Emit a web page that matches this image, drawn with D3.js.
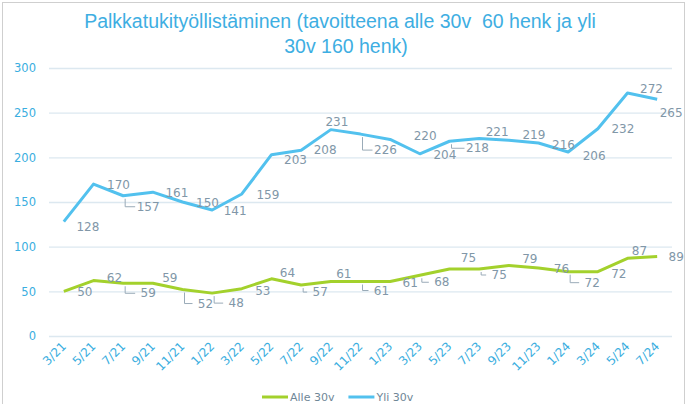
<!DOCTYPE html>
<html>
<head>
<meta charset="utf-8">
<script src="https://cdn.jsdelivr.net/npm/d3@7"></script>
<style>
  body { margin: 0; background: #fff; }
  svg { display: block; }
</style>
</head>
<body>
<svg id="chart" width="692" height="404"></svg>
<script>
// data
const months = ["3/21", "5/21", "7/21", "9/21", "11/21", "1/22", "3/22", "5/22", "7/22", "9/22", "11/22",
  "1/23", "3/23", "5/23", "7/23", "9/23", "11/23", "1/24", "3/24", "5/24", "7/24"];
const alle30 = [50, 62, 59, 59, 52, 48, 53, 64, 57, 61, 61, 61, 68, 75, 75, 79, 76, 72, 72, 87, 89];
const yli30 = [128, 170, 157, 161, 150, 141, 159, 203, 208, 231, 226, 220, 204, 218, 221, 219, 216, 206, 232, 272, 265];
const yTicks = [0, 50, 100, 150, 200, 250, 300];

// label nudges (dx to label centre, dy to baseline) like the excel leader-line layout
const yliLabelDx = [24, 25, 25, 24, 25, 23, 26, 24, 24, 6, 25, 35, 25, 28, 18, 25, 25, 26, 25, 24, 14];
const yliLabelDy = [9, 5, 15, 5, 5, 5, 5, 9, 4, -4, 20, 1, 5, 11, -3, -1, 6, 8, 4, 0, 18];
const alleLabelDx = [21, 21, 25, 17, 23, 24, 21, 16, 19, 13, 21, 20, 22, 19, 20, 21, 23, 24, 21, 12, 19];
const alleLabelDy = [5, 1, 14, -1, 18, 14, 6, -2, 11, -4, 13, 5, 11, -7, 10, -2, 5, 15, 6, -3, 5];

const series = [
  { name: "Alle 30v", values: alle30, color: "#a3d12c", dx: alleLabelDx, dy: alleLabelDy },
  { name: "Yli 30v", values: yli30, color: "#52c1ee", dx: yliLabelDx, dy: yliLabelDy }
];

const svg = d3.select("#chart");
const plotLeft = 49, plotRight = 672, plotTop = 68, plotBottom = 336;

// frame
svg.append("rect")
  .attr("x", 2.5).attr("y", 2.5)
  .attr("width", 682).attr("height", 410)
  .attr("fill", "none")
  .attr("stroke", "#cfcfcf");

const x = d3.scaleBand().domain(months).range([plotLeft, plotRight]).padding(0);
const cx = d => x(d) + x.bandwidth() / 2;
const y = d3.scaleLinear().domain([0, 300]).range([plotBottom, plotTop]);

// title
const title = svg.append("text")
  .attr("text-anchor", "middle")
  .attr("font-family", "Liberation Sans, Arial, sans-serif")
  .attr("font-size", 19.5)
  .attr("fill", "#3eaee2");
title.append("tspan").attr("x", 340).attr("y", 28)
  .text("Palkkatukityöllistäminen (tavoitteena alle 30v\u00a0 60 henk ja yli");
title.append("tspan").attr("x", 346).attr("y", 53)
  .text("30v 160 henk)");

// gridlines + y axis
const yAxis = svg.append("g")
  .attr("transform", `translate(${plotLeft},0)`)
  .call(d3.axisLeft(y).tickValues(yTicks).tickSize(-(plotRight - plotLeft)).tickPadding(13));
yAxis.select(".domain").remove();
yAxis.selectAll(".tick line").attr("stroke", "#dce8f0").attr("stroke-width", 1.3);
yAxis.selectAll(".tick text")
  .attr("font-family", "DejaVu Sans, sans-serif")
  .attr("font-size", 11.5)
  .attr("fill", "#3aaee0");

// x axis labels
const xAxis = svg.append("g")
  .attr("transform", `translate(0,${plotBottom})`)
  .call(d3.axisBottom(x).tickSize(0).tickPadding(0));
xAxis.select(".domain").remove();
xAxis.selectAll(".tick text")
  .attr("font-family", "DejaVu Sans, sans-serif")
  .attr("font-size", 12)
  .attr("fill", "#3aaee0")
  .attr("text-anchor", "end")
  .attr("dy", null)
  .attr("y", 0)
  .attr("transform", "translate(3,11) rotate(-45)");

// lines
const line = d3.line()
  .x((d, i) => cx(months[i]))
  .y(d => y(d));

series.forEach(s => {
  svg.append("path")
    .datum(s.values)
    .attr("d", line)
    .attr("fill", "none")
    .attr("stroke", s.color)
    .attr("stroke-width", 3)
    .attr("stroke-linejoin", "round");
});

// data labels with little leader lines
series.forEach(s => {
  const g = svg.append("g");
  s.values.forEach((v, i) => {
    const px = cx(months[i]), py = y(v);
    const lx = px + s.dx[i], ly = py + s.dy[i];
    if (s.dy[i] >= 10 && s.dx[i] >= 18) {
      g.append("path")
        .attr("d", `M${px + 2},${py + 3} V${ly - 4} H${lx - 13}`)
        .attr("fill", "none")
        .attr("stroke", "#9aabb8")
        .attr("stroke-width", 1);
    }
    g.append("text")
      .attr("x", lx).attr("y", ly)
      .attr("text-anchor", "middle")
      .attr("font-family", "DejaVu Sans, sans-serif")
      .attr("font-size", 12)
      .attr("fill", "#8197a8")
      .text(v);
  });
});

// legend
const legend = svg.append("g").attr("transform", "translate(262,397)");
let legX = 0;
series.forEach(s => {
  legend.append("line")
    .attr("x1", legX).attr("x2", legX + 26)
    .attr("y1", 0).attr("y2", 0)
    .attr("stroke", s.color).attr("stroke-width", 3);
  const t = legend.append("text")
    .attr("x", legX + 28).attr("y", 4)
    .attr("font-family", "DejaVu Sans, sans-serif")
    .attr("font-size", 11)
    .attr("fill", "#6f8797")
    .text(s.name);
  legX += 28 + t.node().getComputedTextLength() + 14;
});
</script>
</body>
</html>
